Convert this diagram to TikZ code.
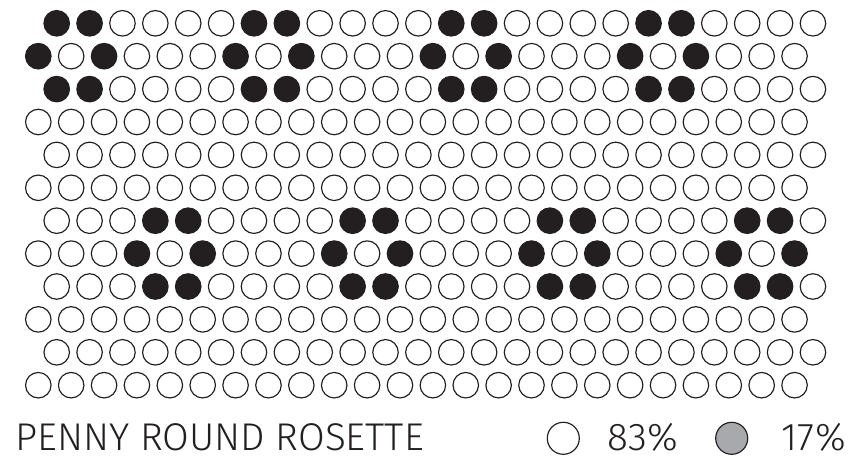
\documentclass[tikz,border=0pt]{standalone}
\usepackage{fontspec}
\setmainfont{Fira Sans}[UprightFont=* Light]
\usetikzlibrary{positioning}
\definecolor{ink}{HTML}{231F20}
\definecolor{keygrey}{HTML}{A7A9AC}

\begin{document}
\begin{tikzpicture}[
  x=0.03cm, y=-0.03cm,
  penny/.style={circle, draw=ink, line width=0.035cm, minimum size=0.765cm, inner sep=0pt},
  dark/.style={penny, fill=ink},
  keydot/.style={circle, draw=ink, line width=0.035cm, minimum size=0.96cm, inner sep=0pt},
  lbl/.style={font=\fontsize{33}{33}\selectfont, text=ink, inner sep=0pt, anchor=base west},
  pct/.style={lbl, anchor=base east}
]
  \useasboundingbox (0,0) rectangle (853,459);

  % pennies: even rows shifted right, rosettes move 3 columns every 6 rows
  \foreach \r in {0,...,11}{
    \foreach \c in {0,...,23}{
      \pgfmathsetmacro{\xx}{38.3+18.4*(1-mod(\r,2))+32.88*\c}
      \pgfmathsetmacro{\yy}{23.3+32.9*\r}
      \pgfmathtruncatemacro{\lr}{mod(\r,6)}
      \pgfmathtruncatemacro{\k}{mod(\c+6-3*mod(floor(\r/6),2),6)}
      \pgfmathtruncatemacro{\on}{or(and(or(\lr==0,\lr==2),\k<2),and(\lr==1,or(\k==0,\k==2)))}
      \ifnum\on=1
        \node[dark] (p-\r-\c) at (\xx,\yy) {};
      \else
        \node[penny] (p-\r-\c) at (\xx,\yy) {};
      \fi
    }
  }

  % legend
  \node[lbl] (title) at (15,450) {PENNY ROUND ROSETTE};
  \node[keydot] (keyplain) at (563.3,438.3) {};
  \node[pct] (plainpct) at (678,450) {83\%};
  \node[keydot, fill=keygrey] (keyrosette) at (731.7,438.3) {};
  \node[pct] (rosettepct) at (846,450) {17\%};
\end{tikzpicture}
\end{document}
